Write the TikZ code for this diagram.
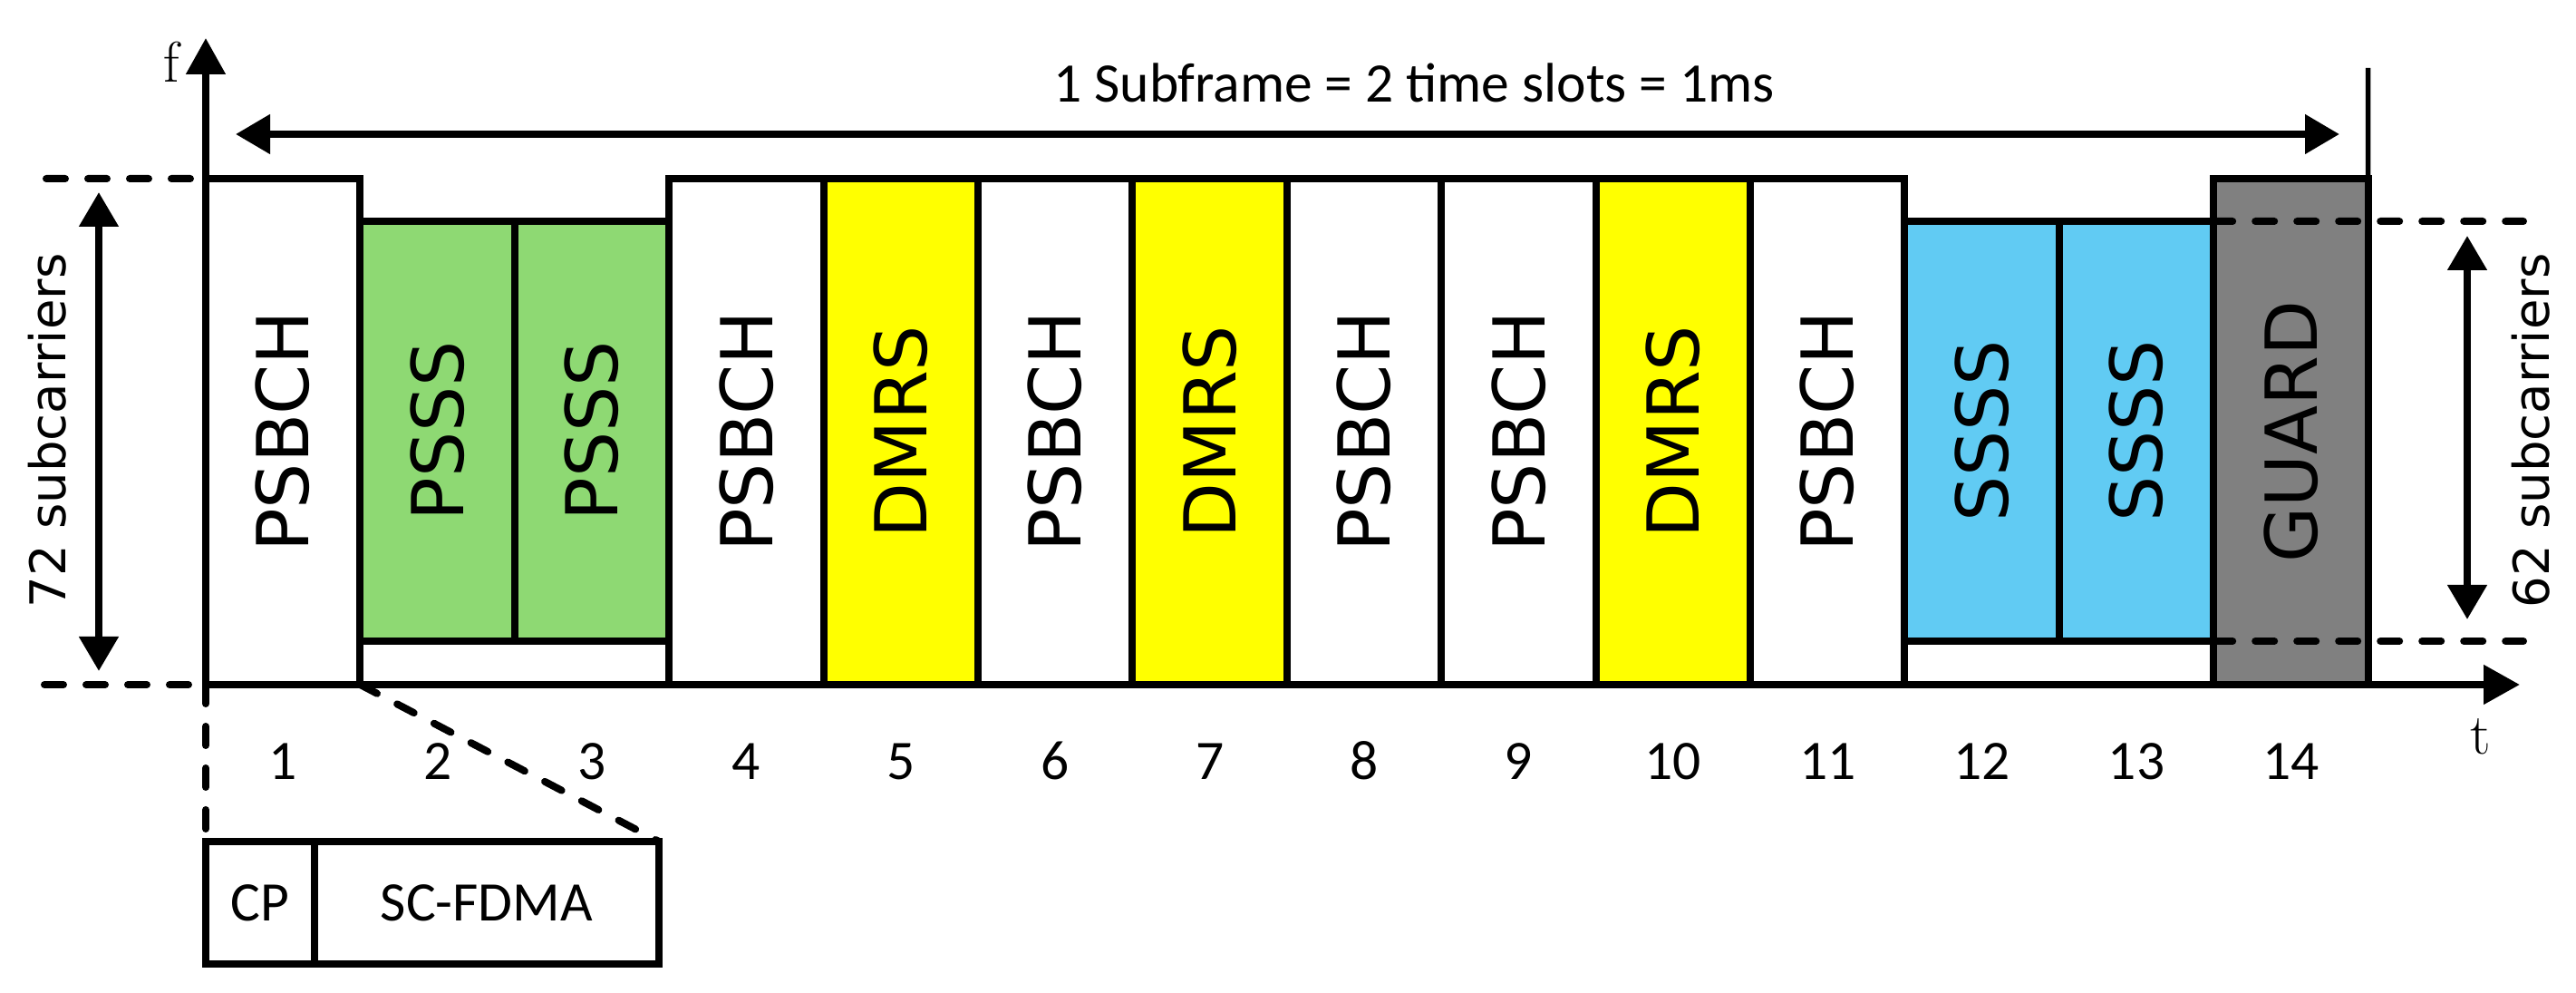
\documentclass[tikz,border=0pt]{standalone}
\usepackage{fontspec}
\newfontfamily\dvs{DejaVu Sans}
\newfontfamily\carl{Carlito}
\usetikzlibrary{arrows.meta}
\definecolor{pgreen}{HTML}{8ED973}
\definecolor{pcyan}{HTML}{61CBF3}
\definecolor{pgray}{HTML}{808080}
\definecolor{pyellow}{HTML}{FFFF00}
\begin{document}
\begin{tikzpicture}[x=1cm,y=1cm,
  lw/.style={line width=0.08cm},
  tip/.style={-{Triangle[length=0.40cm,width=0.42cm]}},
  dtip/.style={{Triangle[length=0.38cm,width=0.42cm]}-{Triangle[length=0.38cm,width=0.42cm]}},
  dashy/.style={lw, line cap=round, dash pattern=on 0.21cm off 0.25cm},
  cell/.style={draw, lw, outer sep=0pt, inner sep=0pt, anchor=south west,
    minimum width=1.704cm, font=\dvs\fontsize{22.5}{27}\selectfont},
  fullcell/.style={cell, minimum height=5.58cm},
  shortcell/.style={cell, minimum height=4.63cm},
  framecell/.style={draw, lw, outer sep=0pt, inner sep=0pt, anchor=south west,
    minimum width=3.408cm, minimum height=5.11cm, fill=white},
  numlab/.style={font=\carl\fontsize{17.5}{21}\selectfont, anchor=base},
  sublab/.style={font=\dvs\fontsize{15.5}{19}\selectfont, rotate=90},
  axlab/.style={font=\fontsize{18}{22}\selectfont},
  symbox/.style={draw, lw, outer sep=0pt, inner sep=0pt, anchor=south west,
    minimum height=1.35cm, font=\carl\fontsize{17.5}{21}\selectfont}
]
\useasboundingbox (0,0) rectangle (28.42,10.95);

% frames for short columns
\node[framecell] (f23) at (3.974,3.40) {};
\node[framecell] (f1213) at (21.014,3.40) {};

% full-height columns
\foreach \k/\col/\txt in {1/white/PSBCH, 4/white/PSBCH, 5/pyellow/DMRS, 6/white/PSBCH,
  7/pyellow/DMRS, 8/white/PSBCH, 9/white/PSBCH, 10/pyellow/DMRS, 11/white/PSBCH, 14/pgray/GUARD}
  \node[fullcell, fill=\col] (c\k) at ({2.27+(\k-1)*1.704},3.40) {\rotatebox{90}{\txt}};

% short columns
\foreach \k/\col/\txt in {2/pgreen/PSSS, 3/pgreen/PSSS, 12/pcyan/SSSS, 13/pcyan/SSSS}
  \node[shortcell, fill=\col] (c\k) at ({2.27+(\k-1)*1.704},3.88) {\rotatebox{90}{\txt}};

% slot numbers
\foreach \k in {1,...,14}
  \node[numlab] (n\k) at ({2.27+(\k-0.5)*1.704},2.35) {\k};

% axes
\coordinate (O) at (2.27,3.40);
\coordinate (ftip) at (2.27,10.53);
\coordinate (ttip) at (27.80,3.40);
\draw[lw, tip] (O) -- (ftip);
\draw[lw, tip] (O) -- (ttip);
\node[axlab] (flab) at (1.89,10.27) {f};
\node[axlab] (tlab) at (27.37,2.83) {t};

% subframe arrow
\coordinate (dl) at (2.60,9.47);
\coordinate (dr) at (25.81,9.47);
\draw[lw, dtip] (dl) -- (dr);
\node[font=\carl\fontsize{17.5}{21}\selectfont, anchor=base] (sub) at (15.60,9.82) {1 Subframe = 2 time slots = 1ms};

% right thin line
\coordinate (rtop) at (26.126,10.20);
\draw[line width=0.055cm] (c14.north east) -- (rtop);

% left dashed guides and 72 subcarriers
\coordinate (lt) at (0.51,8.98);
\coordinate (lb) at (0.49,3.40);
\draw[dashy] (lt) -- (c1.north west);
\draw[dashy] (lb) -- (O);
\coordinate (a72t) at (1.09,8.83);
\coordinate (a72b) at (1.09,3.55);
\draw[lw, dtip] (a72t) -- (a72b);
\node[sublab] (l72) at (0.52,6.20) {72 subcarriers};

% right dashed guides and 62 subcarriers
\coordinate (rt) at (27.84,8.51);
\coordinate (rb) at (27.84,3.88);
\draw[dashy] (c13.north east) -- (rt);
\draw[dashy] (c13.south east) -- (rb);
\coordinate (a62t) at (27.22,8.35);
\coordinate (a62b) at (27.22,4.12);
\draw[lw, dtip] (a62t) -- (a62b);
\node[sublab] (l62) at (27.92,6.20) {62 subcarriers};

% symbol detail
\node[symbox, minimum width=1.20cm] (cp) at (2.27,0.32) {CP};
\node[symbox, minimum width=3.80cm] (sc) at (3.47,0.32) {SC-FDMA};
\draw[dashy] (O) -- (cp.north west);
\draw[dashy] (c1.south east) -- (sc.north east);
\end{tikzpicture}
\end{document}
